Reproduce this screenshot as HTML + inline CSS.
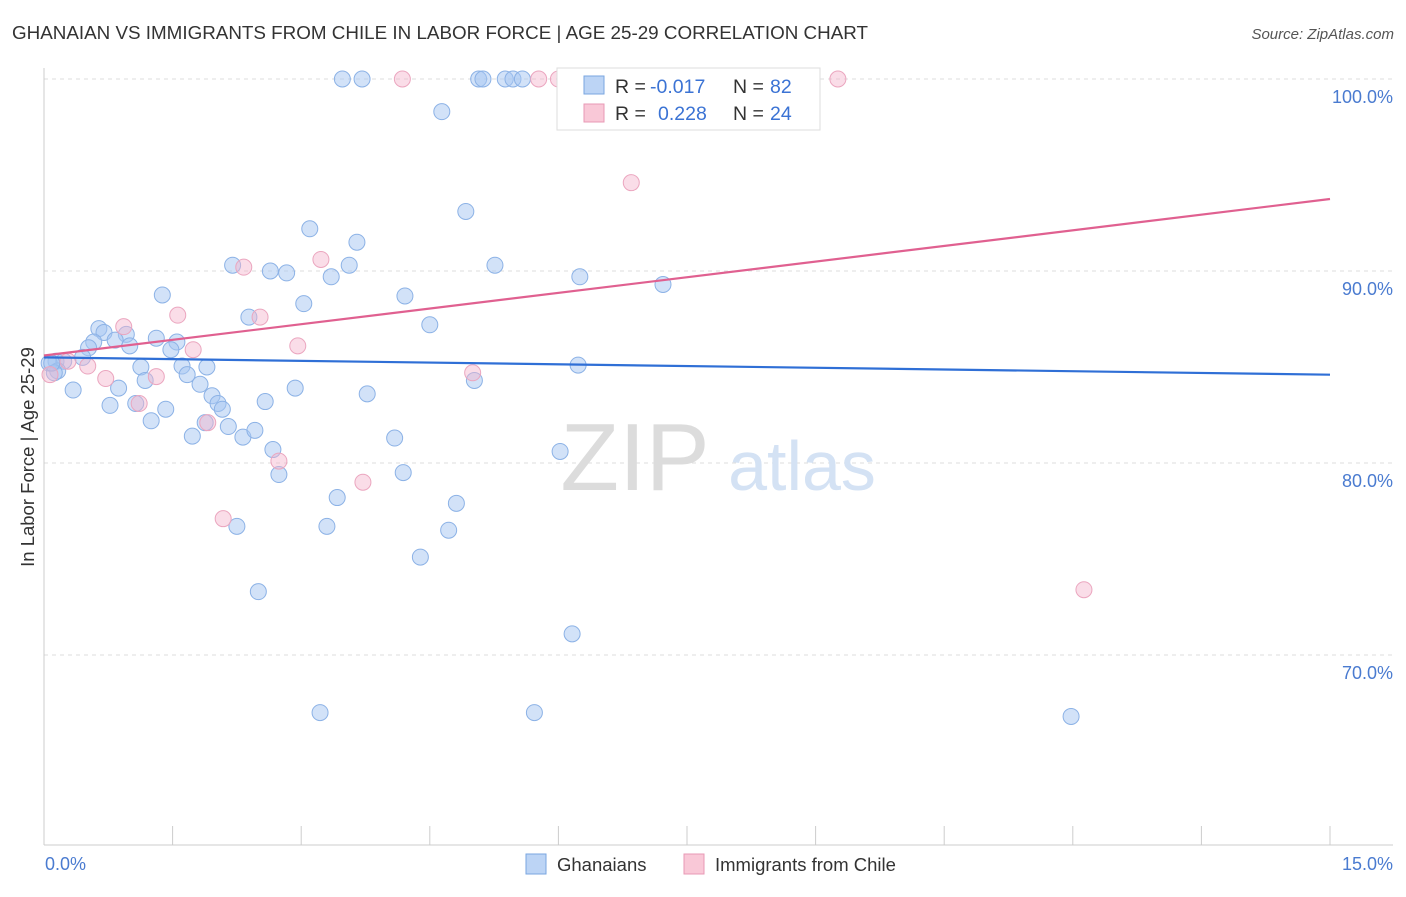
<!DOCTYPE html>
<html><head><meta charset="utf-8"><style>
body{margin:0;background:#fff;font-family:"Liberation Sans",sans-serif}
svg text{font-family:"Liberation Sans",sans-serif}
</style></head><body>
<svg id="c" width="1406" height="892" xmlns="http://www.w3.org/2000/svg">
<text x="12" y="39" font-size="18.8" fill="#333" textLength="856" lengthAdjust="spacingAndGlyphs">GHANAIAN VS IMMIGRANTS FROM CHILE IN LABOR FORCE | AGE 25-29 CORRELATION CHART</text>
<text x="1394" y="39" font-size="15" fill="#555" font-style="italic" text-anchor="end">Source: ZipAtlas.com</text>
<g id="grid"></g>
<g><text x="635" y="490" font-size="96" fill="#dcdcdc" font-family="Liberation Serif" text-anchor="middle">ZIP</text><text x="802" y="490" font-size="70" fill="#d4e2f4" text-anchor="middle">atlas</text></g>
<line x1="44" y1="68" x2="44" y2="845" stroke="#ccc"/>
<line x1="44" y1="845" x2="1393" y2="845" stroke="#ccc"/>
<text transform="translate(34,457) rotate(-90)" font-size="18.5" fill="#333" text-anchor="middle">In Labor Force | Age 25-29</text>
<text x="45" y="870" font-size="18" fill="#4a7bd0">0.0%</text>
<text x="1393" y="870" font-size="18" fill="#4a7bd0" text-anchor="end">15.0%</text>
<g id="pts"></g>
<g id="lines"></g>
<g>
<rect x="557" y="68" width="263" height="62" fill="#fff" stroke="#ddd"/>
<rect x="584" y="76" width="20" height="18" fill="#bcd4f5" stroke="#7aa6e0"/>
<rect x="584" y="104" width="20" height="18" fill="#f9c8d7" stroke="#e899b5"/>
<text x="615" y="93" font-size="19.5" fill="#333">R =</text>
<text x="650" y="93" font-size="19.5" fill="#3b73d4">-0.017</text>
<text x="733" y="93" font-size="19.5" fill="#333">N =</text>
<text x="770" y="93" font-size="19.5" fill="#3b73d4">82</text>
<text x="615" y="120" font-size="19.5" fill="#333">R =</text>
<text x="658" y="120" font-size="19.5" fill="#3b73d4">0.228</text>
<text x="733" y="120" font-size="19.5" fill="#333">N =</text>
<text x="770" y="120" font-size="19.5" fill="#3b73d4">24</text>
</g>
<g>
<rect x="526" y="854" width="20" height="20" fill="#bcd4f5" stroke="#7aa6e0"/>
<text x="557" y="871" font-size="18.5" fill="#333">Ghanaians</text>
<rect x="684" y="854" width="20" height="20" fill="#f9c8d7" stroke="#e899b5"/>
<text x="715" y="871" font-size="18.5" fill="#333">Immigrants from Chile</text>
</g>
</svg>
<script>
const yTicks=[100,90,80,70];
const yTickLabels=["100.0%","90.0%","80.0%","70.0%"];
const xTicks=[0,1.5,3,4.5,6,7.5,9,10.5,12,13.5,15];
const blueX=[3.48,3.71,5.07,5.12,5.38,5.47,5.58,4.64,4.92,3.10,3.65,2.20,2.64,2.83,3.56,3.35,5.26,6.25,7.22,1.38,4.21,3.03,2.39,4.50,0.64,0.70,0.96,0.58,0.83,1.31,1.00,0.52,1.55,1.48,0.45,0.14,0.23,0.06,1.13,1.61,1.90,1.67,1.18,0.16,0.12,0.34,0.87,1.82,2.93,3.77,1.96,2.03,2.08,2.58,0.77,1.07,1.42,1.25,1.88,2.15,1.73,2.32,2.46,4.09,5.02,6.23,2.67,2.74,4.19,6.02,3.42,4.81,2.25,3.30,4.72,4.39,2.50,6.16,3.22,5.72,11.98,0.09];
const blueY=[100,100,100,100,100,100,100,98.3,93.1,92.2,91.5,90.3,90.0,89.9,90.3,89.7,90.3,89.7,89.3,88.75,88.7,88.3,87.6,87.2,87.0,86.8,86.7,86.3,86.4,86.5,86.1,86.0,86.3,85.9,85.5,85.3,85.3,85.2,85.0,85.05,85.0,84.6,84.3,84.8,84.7,83.8,83.9,84.1,83.9,83.6,83.5,83.1,82.8,83.2,83.0,83.1,82.8,82.2,82.1,81.9,81.4,81.35,81.7,81.3,84.3,85.1,80.7,79.4,79.5,80.6,78.2,77.9,76.7,76.7,76.5,75.1,73.3,71.1,67.0,67.0,66.8,85.2];
const pinkX=[4.18,5.77,6.00,9.26,6.85,3.23,2.33,2.52,1.56,0.93,2.96,1.74,0.51,0.28,0.72,1.31,1.11,1.91,5.00,2.74,3.72,2.09,12.13,0.07];
const pinkY=[100,100,100,100,94.6,90.6,90.2,87.6,87.7,87.1,86.1,85.9,85.05,85.3,84.4,84.5,83.1,82.1,84.7,80.1,79.0,77.1,73.4,84.6];
const blueTrend=[85.5,84.6];
const pinkTrend=[85.6,93.75];
const NS="http://www.w3.org/2000/svg";
const xs=v=>44+v/15*1286, ys=v=>79+(100-v)*19.2;
function mk(t,a,p){const e=document.createElementNS(NS,t);for(const k in a)e.setAttribute(k,a[k]);p.appendChild(e);return e;}
const g=document.getElementById('grid');
yTicks.forEach((t,i)=>{const l=mk('line',{x1:44,x2:1393,y1:ys(t),y2:ys(t),stroke:'#ddd','stroke-dasharray':'4,4'},g);


const tx=mk('text',{x:1393,y:ys(t)+24,'font-size':18,fill:'#4a7bd0','text-anchor':'end'},g);tx.textContent=yTickLabels[i];

});
xTicks.forEach(t=>{const l=mk('line',{x1:xs(t),x2:xs(t),y1:826,y2:845,stroke:'#ccc'},g);

});
const P=document.getElementById('pts');
blueX.forEach((x,i)=>{const c=mk('circle',{cx:xs(x),cy:ys(blueY[i]),r:8,fill:'rgba(165,198,242,0.5)',stroke:'#8cb2e6','stroke-width':1},P);

});
pinkX.forEach((x,i)=>{const c=mk('circle',{cx:xs(x),cy:ys(pinkY[i]),r:8,fill:'rgba(245,180,204,0.45)',stroke:'#eba6bf','stroke-width':1},P);

});
const L=document.getElementById('lines');
const b=mk('line',{x1:xs(0),x2:xs(15),y1:ys(blueTrend[0]),y2:ys(blueTrend[1]),stroke:'#2f6fd6','stroke-width':2.2},L);


const p=mk('line',{x1:xs(0),x2:xs(15),y1:ys(pinkTrend[0]),y2:ys(pinkTrend[1]),stroke:'#e06090','stroke-width':2.2},L);


</script>
</body></html>
